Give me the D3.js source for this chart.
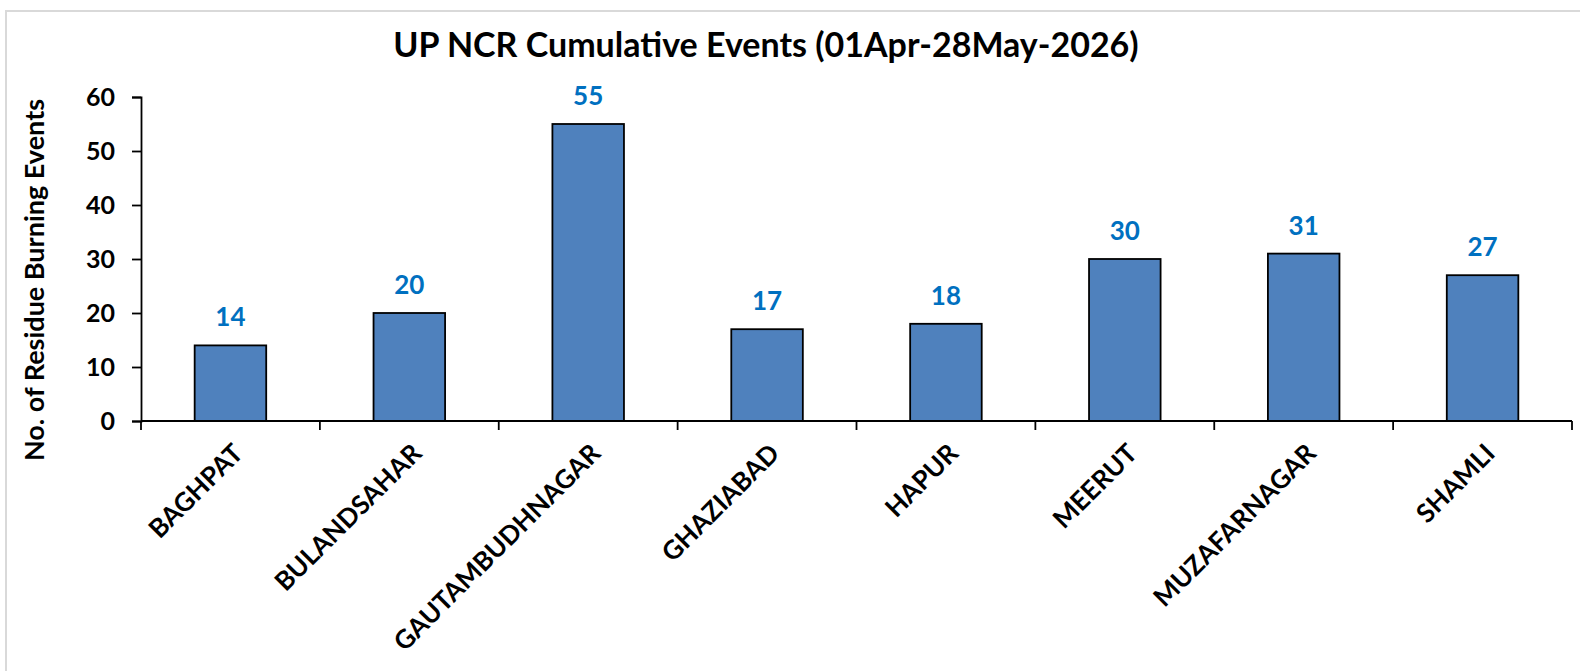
<!DOCTYPE html>
<html lang="en">
<head>
  <meta charset="UTF-8">
  <title>UP NCR Cumulative Events</title>
  <script src="https://d3js.org/d3.v7.min.js"></script>
  <style>
    body { margin: 0; background: #fff; }
    text { font-family: Lato, "Open Sans", sans-serif; font-weight: bold; }
  </style>
</head>
<body>
  <div id="chart"></div>
  <script>
    var districts = ["BAGHPAT", "BULANDSAHAR", "GAUTAMBUDHNAGAR", "GHAZIABAD", "HAPUR", "MEERUT", "MUZAFARNAGAR", "SHAMLI"];
    var events = [14, 20, 55, 17, 18, 30, 31, 27];
    var yTicks = [0, 10, 20, 30, 40, 50, 60];
    var title = "UP NCR Cumulative Events (01Apr-28May-2026)";
    var yTitle = "No. of Residue Burning Events";

    var W = 1580, H = 671;
    var margin = { top: 97, right: 8, bottom: 250, left: 141 };
    var width = W - margin.left - margin.right,
        height = H - margin.top - margin.bottom;

    var svg = d3.select("#chart")
      .append("svg")
      .attr("width", W)
      .attr("height", H);

    // chart area border (cut off on the right and bottom)
    svg.append("rect")
      .attr("x", 6).attr("y", 11)
      .attr("width", W).attr("height", H)
      .style("fill", "#fff")
      .style("stroke", "#d9d9d9")
      .style("stroke-width", "2px");

    svg.append("text")
      .attr("x", 766)
      .attr("y", 57)
      .attr("text-anchor", "middle")
      .style("font-size", "34px")
      .style("fill", "#000")
      .text(title);

    var g = svg.append("g")
      .attr("transform", "translate(" + margin.left + "," + margin.top + ")");

    var x = d3.scaleBand()
      .domain(districts)
      .range([0, width])
      .paddingInner(0.6)
      .paddingOuter(0.3);

    var y = d3.scaleLinear()
      .domain([0, 60])
      .range([height, 0]);

    // bars
    g.selectAll(".bar")
      .data(events)
      .enter()
      .append("rect")
      .attr("class", "bar")
      .attr("x", function (d, i) { return x(districts[i]); })
      .attr("y", function (d) { return y(d); })
      .attr("width", x.bandwidth())
      .attr("height", function (d) { return height - y(d); })
      .style("fill", "#4f81bd")
      .style("stroke", "#000")
      .style("stroke-width", "1.8px");

    // value labels
    g.selectAll(".val")
      .data(events)
      .enter()
      .append("text")
      .attr("class", "val")
      .attr("x", function (d, i) { return x(districts[i]) + x.bandwidth() / 2; })
      .attr("y", function (d) { return y(d) - 19; })
      .attr("text-anchor", "middle")
      .style("font-size", "26px")
      .style("fill", "#0070c0")
      .text(function (d) { return d; });

    // y axis
    var yAxis = g.append("g")
      .call(d3.axisLeft(y).tickValues(yTicks).tickSize(9).tickPadding(17));
    yAxis.select(".domain").style("stroke", "#000").style("stroke-width", "1.8px");
    yAxis.selectAll("line").style("stroke", "#000").style("stroke-width", "1.8px");
    yAxis.selectAll("text").style("font-size", "25px").style("fill", "#000");

    // x axis: ticks sit between categories, like Excel
    var bounds = d3.range(districts.length + 1).map(function (i) { return i * width / districts.length; });
    var xAxis = g.append("g").attr("transform", "translate(0," + height + ")");
    xAxis.append("line")
      .attr("x1", 0).attr("x2", width)
      .style("stroke", "#000").style("stroke-width", "1.8px");
    xAxis.selectAll(".tick")
      .data(bounds)
      .enter()
      .append("line")
      .attr("x1", function (d) { return d; })
      .attr("x2", function (d) { return d; })
      .attr("y1", 0).attr("y2", 9)
      .style("stroke", "#000").style("stroke-width", "1.8px");

    xAxis.selectAll(".lbl")
      .data(districts)
      .enter()
      .append("text")
      .attr("text-anchor", "end")
      .attr("transform", function (d) {
        return "translate(" + (x(d) + x.bandwidth() / 2 + 14) + ",34) rotate(-45)";
      })
      .style("font-size", "26px")
      .style("fill", "#000")
      .text(function (d) { return d; });

    svg.append("text")
      .attr("transform", "translate(44,280) rotate(-90)")
      .attr("text-anchor", "middle")
      .style("font-size", "27px")
      .style("fill", "#000")
      .text(yTitle);
  </script>
</body>
</html>
